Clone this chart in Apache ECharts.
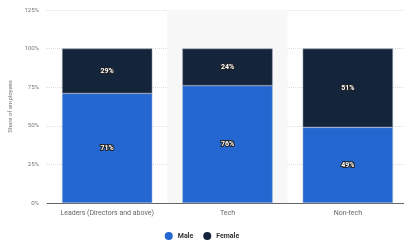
<!DOCTYPE html>
<html>
<head>
<meta charset="utf-8">
<script src="https://cdn.jsdelivr.net/npm/echarts@6/dist/echarts.min.js"></script>
<style>
  html, body { margin: 0; padding: 0; background: #fff; }
  #chart { width: 404px; height: 242px; }
</style>
</head>
<body>
<div id="chart"></div>
<script>
// data
var categories = ['Leaders (Directors and above)', 'Tech', 'Non-tech']
var male = [71, 76, 49]
var female = [29, 24, 51]
// hover band behind "Tech"
var highlight = ['-', 125, '-']

var chart = echarts.init(document.getElementById('chart'))

// white label with dark outline, like the original
var barLabel = {
  show: true,
  position: 'inside',
  formatter: '{c}%',
  color: '#fff',
  fontSize: 7,
  fontWeight: 'bold',
  fontFamily: 'Roboto',
  textBorderColor: '#222',
  textBorderWidth: 2
}

chart.setOption({
  animation: false,
  grid: {
    left: 47,
    width: 361,
    top: 10,
    bottom: 39,
    outerBoundsMode: 'none'
  },
  legend: {
    data: ['Male', 'Female'],
    bottom: -3,
    left: 'center',
    icon: 'circle',
    itemWidth: 8,
    itemHeight: 8,
    itemGap: 10,
    itemStyle: { borderWidth: 0 },
    textStyle: { fontSize: 7, fontWeight: 'bold', color: '#333', fontFamily: 'Roboto' }
  },
  xAxis: [
    {
      type: 'category',
      data: categories,
      axisTick: { show: false },
      axisLine: { lineStyle: { color: '#666', width: 1 } },
      axisLabel: { interval: 0, fontSize: 7, color: '#666', margin: 7, fontFamily: 'Roboto' }
    },
    {
      type: 'category',
      data: categories,
      show: false
    }
  ],
  yAxis: {
    type: 'value',
    min: 0,
    max: 125,
    interval: 25,
    name: 'Share of employees',
    nameLocation: 'middle',
    nameGap: 27,
    nameTextStyle: { fontSize: 6, color: '#777', fontFamily: 'Roboto' },
    axisLabel: { formatter: '{value}%', fontSize: 6, color: '#777', margin: 8, fontFamily: 'Roboto' },
    splitLine: { lineStyle: { color: '#ddd', type: 'dotted' } }
  },
  series: [
    {
      name: 'bg',
      type: 'bar',
      xAxisIndex: 1,
      barWidth: '100%',
      silent: true,
      z: 0,
      data: highlight,
      itemStyle: { color: '#f7f7f7' }
    },
    {
      name: 'Male',
      type: 'bar',
      stack: 'total',
      barWidth: '75%',
      data: male,
      itemStyle: { color: '#2567d1', borderColor: '#9fb4d6', borderWidth: 0.5 },
      label: barLabel
    },
    {
      name: 'Female',
      type: 'bar',
      stack: 'total',
      barWidth: '75%',
      data: female,
      itemStyle: { color: '#14243a', borderColor: '#9aa3b0', borderWidth: 0.5 },
      label: barLabel
    }
  ]
})
</script>
</body>
</html>
